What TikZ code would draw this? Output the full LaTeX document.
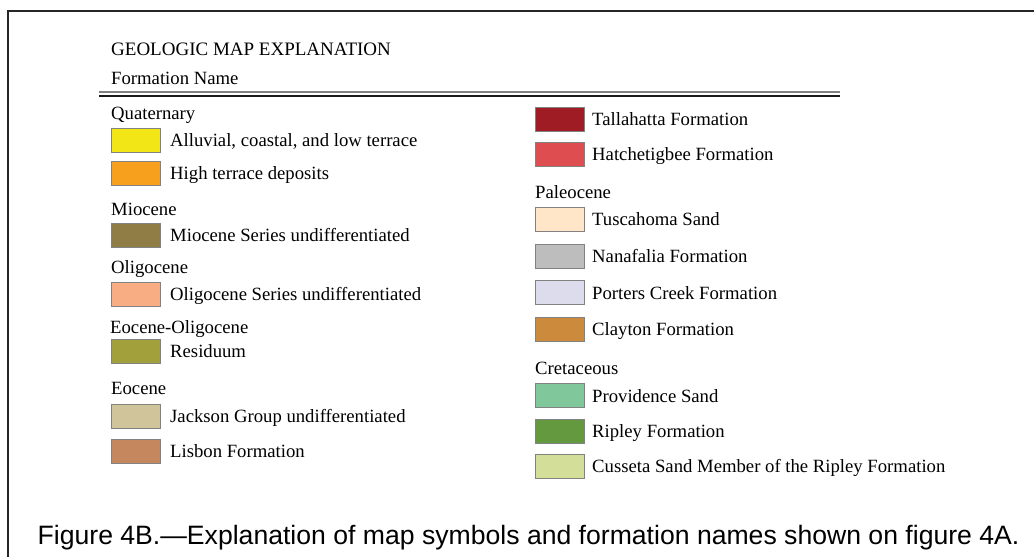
\documentclass[tikz,border=0pt]{standalone}
\usepackage{fontspec}
\setmainfont{Liberation Serif}
\newfontfamily\capfont{Liberation Sans}
\definecolor{cYel}{RGB}{242,230,22}
\definecolor{cOra}{RGB}{247,160,30}
\definecolor{cMio}{RGB}{143,125,69}
\definecolor{cOli}{RGB}{249,173,131}
\definecolor{cRes}{RGB}{161,160,58}
\definecolor{cJac}{RGB}{207,196,154}
\definecolor{cLis}{RGB}{196,135,94}
\definecolor{cTal}{RGB}{160,28,36}
\definecolor{cHat}{RGB}{222,78,80}
\definecolor{cTus}{RGB}{255,230,200}
\definecolor{cNan}{RGB}{189,189,189}
\definecolor{cPor}{RGB}{220,220,236}
\definecolor{cCla}{RGB}{204,138,60}
\definecolor{cPro}{RGB}{128,200,156}
\definecolor{cRip}{RGB}{101,153,63}
\definecolor{cCus}{RGB}{211,223,152}
\definecolor{cEdge}{RGB}{130,130,130}
\begin{document}
\begin{tikzpicture}[x=1pt,y=-1pt,
  swatch/.style={draw=cEdge, line width=0.9pt, minimum width=49pt, minimum height=24pt, inner sep=0pt},
  lbl/.style={anchor=base west, inner sep=0pt, font=\fontsize{18.7}{21}\selectfont},
  frameline/.style={line width=2pt, draw=black!85},
]
\useasboundingbox (0,0) rectangle (1034,557);
\fill[white] (0,0) rectangle (1034,557);
% frame
\coordinate (fTL) at (8,11);
\coordinate (fTR) at (1034,11);
\coordinate (fBL) at (8,557);
\draw[frameline] (fTR) -- (fTL) -- (fBL);
% header
\node[lbl, font=\fontsize{19}{21}\selectfont] (title) at (111,55) {GEOLOGIC MAP EXPLANATION};
\node[lbl] (fname) at (111,84) {Formation Name};
\coordinate (r1a) at (99,92);
\coordinate (r1b) at (840,92);
\coordinate (r2a) at (99,96);
\coordinate (r2b) at (840,96);
\draw[line width=1.6pt, draw=black!50] (r1a) -- (r1b);
\draw[line width=1.2pt, draw=black!90] (r2a) -- (r2b);
% left column
\node[lbl] (hQua) at (111,119) {Quaternary};
\node[swatch, fill=cYel] (sAll) at (135.5,140) {};
\node[lbl] (tAll) at (170,146.5) {Alluvial, coastal, and low terrace};
\node[swatch, fill=cOra] (sHig) at (135.5,173) {};
\node[lbl] (tHig) at (170,179.5) {High terrace deposits};
\node[lbl] (hMio) at (111,215) {Miocene};
\node[swatch, fill=cMio] (sMio) at (136,235) {};
\node[lbl] (tMio) at (170,241.5) {Miocene Series undifferentiated};
\node[lbl] (hOli) at (111,273) {Oligocene};
\node[swatch, fill=cOli] (sOli) at (136,294) {};
\node[lbl] (tOli) at (170,300.5) {Oligocene Series undifferentiated};
\node[lbl] (hEoO) at (110,333) {Eocene-Oligocene};
\node[swatch, fill=cRes] (sRes) at (136,351) {};
\node[lbl] (tRes) at (170,357.5) {Residuum};
\node[lbl] (hEoc) at (111,394) {Eocene};
\node[swatch, fill=cJac] (sJac) at (136,416) {};
\node[lbl] (tJac) at (170,422.5) {Jackson Group undifferentiated};
\node[swatch, fill=cLis] (sLis) at (136,451) {};
\node[lbl] (tLis) at (170,457.5) {Lisbon Formation};
% right column
\node[swatch, fill=cTal] (sTal) at (559.5,119) {};
\node[lbl] (tTal) at (592,125.5) {Tallahatta Formation};
\node[swatch, fill=cHat] (sHat) at (559.5,154) {};
\node[lbl] (tHat) at (592,160.5) {Hatchetigbee Formation};
\node[lbl] (hPal) at (535,198) {Paleocene};
\node[swatch, fill=cTus] (sTus) at (559.5,219.5) {};
\node[lbl] (tTus) at (592,225.5) {Tuscahoma Sand};
\node[swatch, fill=cNan] (sNan) at (559.5,256.5) {};
\node[lbl] (tNan) at (592,262.5) {Nanafalia Formation};
\node[swatch, fill=cPor] (sPor) at (559.5,292.5) {};
\node[lbl] (tPor) at (592,299.5) {Porters Creek Formation};
\node[swatch, fill=cCla] (sCla) at (559.5,329.5) {};
\node[lbl] (tCla) at (592,335.5) {Clayton Formation};
\node[lbl] (hCre) at (535,374) {Cretaceous};
\node[swatch, fill=cPro] (sPro) at (559.5,395.5) {};
\node[lbl] (tPro) at (592,402.5) {Providence Sand};
\node[swatch, fill=cRip] (sRip) at (559.5,431) {};
\node[lbl] (tRip) at (592,437.5) {Ripley Formation};
\node[swatch, fill=cCus] (sCus) at (559.5,466.5) {};
\node[lbl] (tCus) at (592,472.5) {Cusseta Sand Member of the Ripley Formation};
% caption
\node[anchor=base west, inner sep=0pt, font=\capfont\fontsize{26.6}{30}\selectfont] (cap) at (37.5,544) {Figure 4B.\textemdash Explanation of map symbols and formation names shown on figure 4A.};
\end{tikzpicture}
\end{document}
